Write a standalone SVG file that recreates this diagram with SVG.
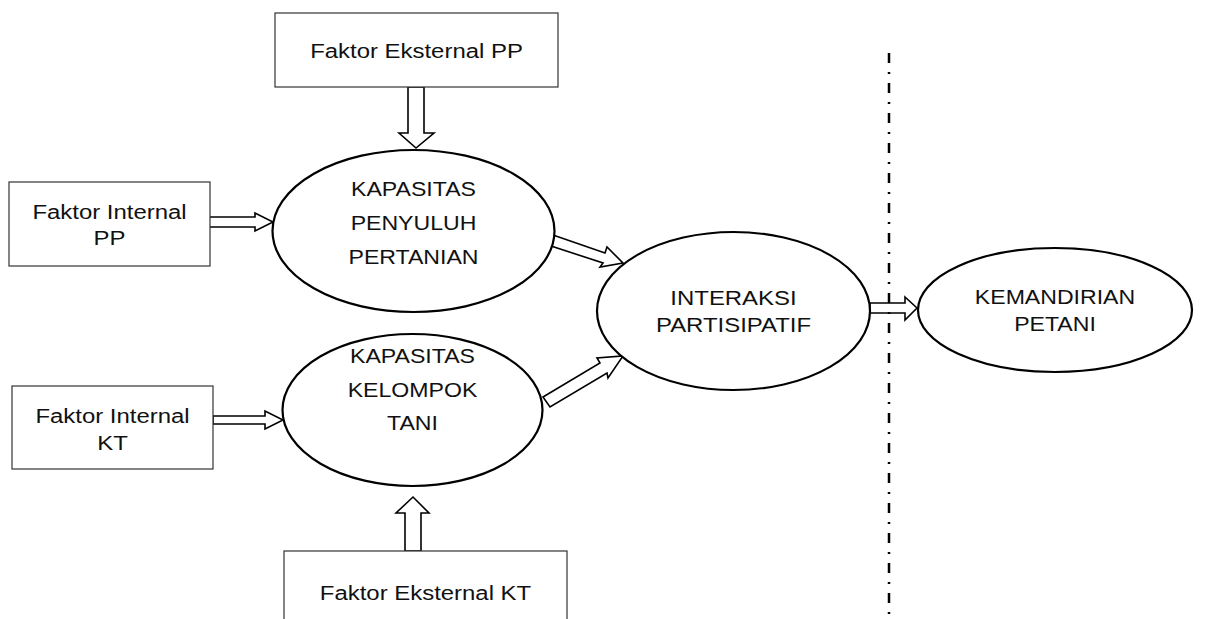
<svg xmlns="http://www.w3.org/2000/svg" width="1207" height="619" viewBox="0 0 1207 619">
<style>
.box{fill:#fff;stroke:#333;stroke-width:1.2}
.ell{fill:#fff;stroke:#000;stroke-width:2.2}
.arr{fill:#fff;stroke:#000;stroke-width:1.6;stroke-linejoin:miter}
.t{font-family:"Liberation Sans",Arial,sans-serif;font-size:21px;fill:#111;text-anchor:middle}
.sep{stroke:#000;stroke-width:2.5;stroke-dasharray:10 9 2 9;fill:none}
</style>
<rect width="1207" height="619" fill="#fff"/>
<g id="connectors">
<polygon class="arr" points="408,87 424,87 424,133 434,133 416,148 399,133 408,133"/>
<polygon class="arr" points="208,217 255,217 255,213 273,222 255,231 255,227 208,227"/>
<polygon class="arr" points="213,416 265,416 265,411 283,420 265,429 265,424 213,424"/>
<polygon class="arr" points="405,551 421,551 421,513 429,513 413,497 396,513 405,513"/>
<polygon class="arr" points="553,235 605,253 607,247 623,263 600,267 603,263 548,245"/>
<polygon class="arr" points="543,397 600,363 597,358 623,356 608,378 607,373 550,407"/>
<polygon class="arr" points="870,303 905,303 905,297 917,308 905,320 905,313 870,313"/>
<line class="sep" x1="889" y1="53" x2="889" y2="619"/>
</g>
<g id="eksternal-pp">
<rect class="box" x="275" y="13" width="283" height="74"/>
<text class="t" transform="translate(416.5,58) scale(1.14,1)">Faktor Eksternal PP</text>
</g>
<g id="internal-pp">
<rect class="box" x="9" y="182" width="201" height="84"/>
<text class="t" transform="translate(109.5,219) scale(1.14,1)">Faktor Internal</text>
<text class="t" transform="translate(109.5,245) scale(1.14,1)">PP</text>
</g>
<g id="internal-kt">
<rect class="box" x="12" y="386" width="201" height="83"/>
<text class="t" transform="translate(112.5,423) scale(1.14,1)">Faktor Internal</text>
<text class="t" transform="translate(112.5,450) scale(1.14,1)">KT</text>
</g>
<g id="eksternal-kt">
<rect class="box" x="284" y="551" width="283" height="100"/>
<text class="t" transform="translate(425.5,600) scale(1.14,1)">Faktor Eksternal KT</text>
</g>
<g id="kapasitas-pp">
<ellipse class="ell" cx="413.5" cy="231" rx="141" ry="81"/>
<text class="t" transform="translate(413.5,196) scale(1.1,1)">KAPASITAS</text>
<text class="t" transform="translate(413.5,230) scale(1.1,1)">PENYULUH</text>
<text class="t" transform="translate(413.5,264) scale(1.1,1)">PERTANIAN</text>
</g>
<g id="kapasitas-kt">
<ellipse class="ell" cx="412.5" cy="410" rx="130" ry="76"/>
<text class="t" transform="translate(412.5,363) scale(1.1,1)">KAPASITAS</text>
<text class="t" transform="translate(412.5,397) scale(1.1,1)">KELOMPOK</text>
<text class="t" transform="translate(412.5,430) scale(1.1,1)">TANI</text>
</g>
<g id="interaksi">
<ellipse class="ell" cx="733.5" cy="311" rx="136.5" ry="79"/>
<text class="t" transform="translate(733.5,305) scale(1.14,1)">INTERAKSI</text>
<text class="t" transform="translate(733.5,332) scale(1.14,1)">PARTISIPATIF</text>
</g>
<g id="kemandirian">
<ellipse class="ell" cx="1055" cy="310" rx="137" ry="62"/>
<text class="t" transform="translate(1055,304) scale(1.1,1)">KEMANDIRIAN</text>
<text class="t" transform="translate(1055,331) scale(1.1,1)">PETANI</text>
</g>
</svg>
